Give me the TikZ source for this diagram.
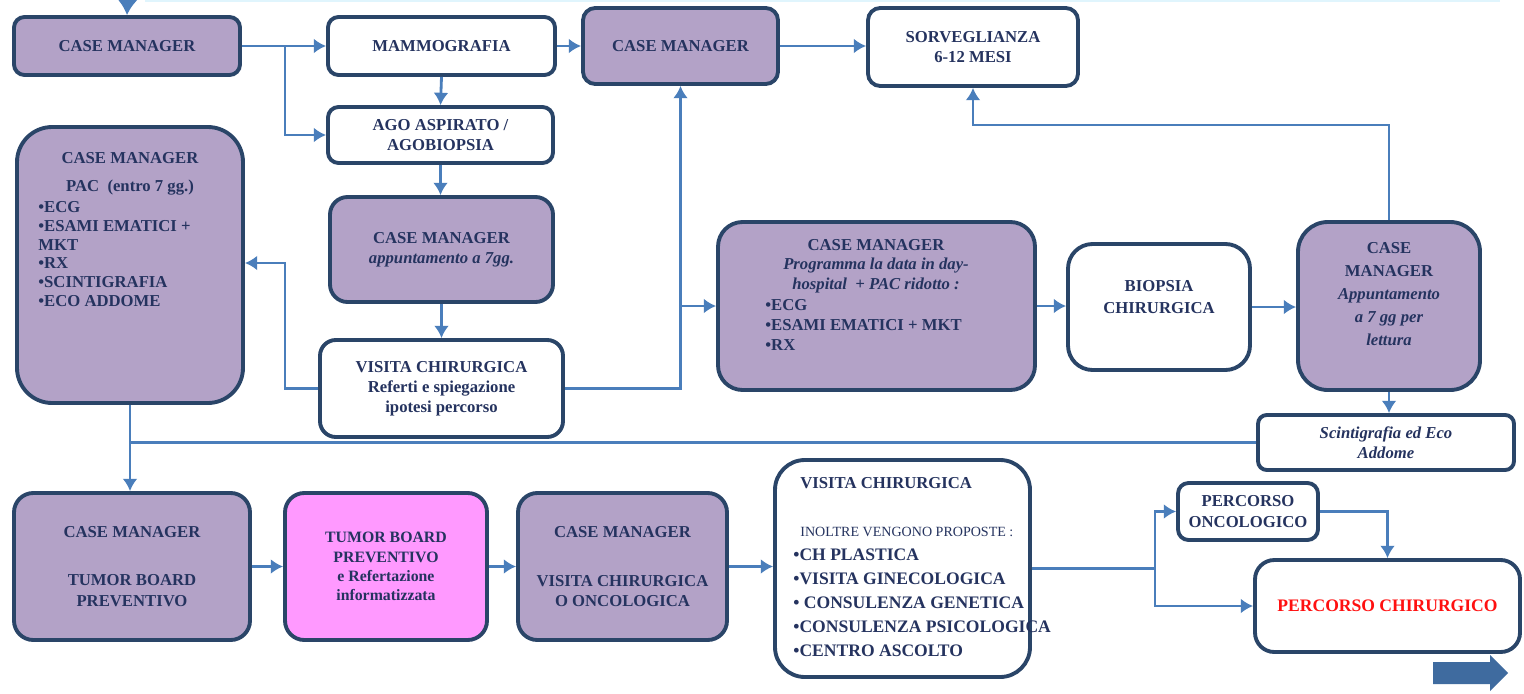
\documentclass[tikz,border=0pt]{standalone}
\usepackage{fontspec}
\setmainfont{Liberation Serif}
\usetikzlibrary{arrows.meta}
\definecolor{lav}{HTML}{B3A2C7}
\definecolor{pinkb}{HTML}{FF99FF}
\definecolor{bord}{HTML}{2A4568}
\definecolor{conn}{HTML}{4A7EBB}
\definecolor{txt}{HTML}{25335F}
\definecolor{redt}{HTML}{FF1010}
\newcommand\dtf{\bfseries\fontsize{9.5}{11.5}\selectfont}
\newcommand\mkbox[6]{\node[#2,minimum width={(#5-#3)*0.02cm},minimum height={(#6-#4)*0.02cm}] (#1) at ({(#3+#5)/2},{(#4+#6)/2})}
\begin{document}
\begin{tikzpicture}[x=0.02cm,y=-0.02cm,
  box/.style={draw=bord,line width=2.2pt,rounded corners=#1,inner sep=0pt,text=txt,font=\dtf,align=center},
  box/.default=6pt,
  cmbox/.style={box=#1,fill=lav}, cmbox/.default=8pt,
  wbox/.style={box=#1,fill=white}, wbox/.default=8pt,
  lbl/.style={text=txt,font=\dtf,align=center,inner sep=0pt},
  arr/.style={draw=conn,line width=1.6pt,-{Latex[length=7pt,width=8.5pt]}},
  ln/.style={draw=conn,line width=1.6pt},
]
\useasboundingbox (0,0) rectangle (1524,693);
\fill[white] (0,0) rectangle (1524,693);
\draw[cyan!12,line width=1pt] (145,1) -- (1500,1);

% boxes
\mkbox{cm1}{cmbox=6pt}{14}{17}{240}{75}{CASE MANAGER};
\mkbox{mam}{wbox=6pt}{328}{17}{555}{75}{MAMMOGRAFIA};
\mkbox{cm2}{cmbox=7pt}{583}{8}{778}{84}{CASE MANAGER};
\mkbox{sorv}{wbox=7pt}{868}{8}{1078}{86}{SORVEGLIANZA\\6-12 MESI};
\mkbox{ago}{wbox=6pt}{328}{107}{553}{163}{AGO ASPIRATO /\\AGOBIOPSIA};
\mkbox{cm3}{cmbox=10pt}{330}{197}{553}{302}{CASE MANAGER\\\textit{appuntamento a 7gg.}};
\mkbox{v1}{wbox=9pt}{320}{340}{563}{437}{VISITA CHIRURGICA\\Referti e spiegazione\\ipotesi percorso};
\mkbox{pac}{cmbox=20pt}{17}{127}{243}{403}{};
\mkbox{dh}{cmbox=14pt}{718}{222}{1035}{390}{};
\mkbox{bio}{wbox=14pt}{1068}{244}{1250}{370}{};
\mkbox{cmr}{cmbox=17pt}{1298}{222}{1480}{390}{};
\mkbox{scint}{wbox=5pt}{1258}{415}{1514}{470}{\textit{Scintigrafia ed Eco}\\\textit{Addome}};
\mkbox{tb1}{cmbox=11pt}{14}{493}{250}{640}{CASE MANAGER\\[16pt]TUMOR BOARD\\PREVENTIVO};
\mkbox{tb2}{box=11pt,fill=pinkb,font=\bfseries\fontsize{9}{11}\selectfont}{285}{493}{487}{640}{TUMOR BOARD\\PREVENTIVO\\e Refertazione\\informatizzata};
\mkbox{cmvc}{cmbox=11pt}{518}{493}{727}{640}{CASE MANAGER\\[16pt]VISITA CHIRURGICA\\O ONCOLOGICA};
\mkbox{vc2}{wbox=17pt}{775}{460}{1030}{677}{};
\mkbox{onc}{wbox=6pt}{1178}{483}{1318}{540}{PERCORSO\\ONCOLOGICO};
\mkbox{chir}{wbox=11pt,font=\bfseries\fontsize{10}{12}\selectfont}{1255}{560}{1520}{652}{\textcolor{redt}{PERCORSO CHIRURGICO}};

% texts placed inside boxes
\node[lbl] (pac-a) at (130,158) {CASE MANAGER};
\node[lbl] (pac-b) at (130,188) {PAC\ \ (entro 7 gg.)};
\node[lbl,align=left,anchor=west,font=\bfseries\fontsize{9.5}{10.6}\selectfont] (pac-c) at (38,254) {•ECG\\•ESAMI EMATICI +\\MKT\\•RX\\•SCINTIGRAFIA\\•ECO ADDOME};
\node[lbl,font=\bfseries\fontsize{9.5}{11}\selectfont] (dh-a) at (876,266) {CASE MANAGER\\\textit{Programma la data in day-}\\\textit{hospital\ \ + PAC ridotto :}};
\node[lbl,align=left,anchor=west,font=\bfseries\fontsize{9.5}{11.3}\selectfont] (dh-b) at (765,325) {•ECG\\•ESAMI EMATICI + MKT\\•RX};
\node[lbl,font=\bfseries\fontsize{9.5}{13}\selectfont] (bio-a) at (1159,297) {BIOPSIA\\CHIRURGICA};
\node[lbl,font=\bfseries\fontsize{9.5}{13}\selectfont] (cmr-a) at (1389,294) {CASE\\MANAGER\\\textit{Appuntamento}\\\textit{a 7 gg per}\\\textit{lettura}};
\node[lbl,anchor=west] (vc2-a) at (800,483) {VISITA CHIRURGICA};
\node[lbl,anchor=west,font=\fontsize{8}{10}\selectfont] (vc2-b) at (800,532) {INOLTRE VENGONO PROPOSTE :};
\node[lbl,align=left,anchor=west,font=\bfseries\fontsize{10}{13.6}\selectfont] (vc2-c) at (793,603) {•CH PLASTICA\\•VISITA GINECOLOGICA\\• CONSULENZA GENETICA\\•CONSULENZA PSICOLOGICA\\•CENTRO ASCOLTO};

% coordinates
\coordinate (topin) at (128,-14);
\coordinate (j1) at (285,46);
\coordinate (j2) at (285,263);
\coordinate (j4) at (973,125);
\coordinate (j6x) at (1155,0);
\coordinate (j6) at (vc2.east -| j6x);

% connectors
\draw[arr,line width=3pt,-{Latex[length=9pt,width=12pt]}] (topin) -- (cm1.north);
\draw[arr] (cm1.east) -- (mam.west);
\draw[arr] (j1) |- (ago.west);
\draw[arr] (mam.east) -- (mam.east -| cm2.west);
\draw[arr] (cm2.east) -- (cm2.east -| sorv.west);
\draw[arr] (mam.south) -- (ago.north);
\draw[arr] (ago.south) -- (ago.south |- cm3.north);
\draw[arr] (cm3.south) -- (cm3.south |- v1.north);
\draw[arr] (v1.west) -| (j2) -- (j2 -| pac.east);
\draw[arr] (v1.east) -| (cm2.south);
\draw[arr] (cm2.south |- dh.west) -- (dh.west);
\draw[arr] (dh.east) -- (dh.east -| bio.west);
\draw[arr] (bio.east) -- (bio.east -| cmr.west);
\draw[arr] (cmr.north) |- (j4) -- (j4 |- sorv.south);
\draw[arr] (cmr.south) -- (cmr.south |- scint.north);
\draw[ln] (scint.west) -- (scint.west -| pac.south);
\draw[arr] (pac.south) -- (pac.south |- tb1.north);
\draw[arr] (tb1.east) -- (tb1.east -| tb2.west);
\draw[arr] (tb2.east) -- (tb2.east -| cmvc.west);
\draw[arr] (cmvc.east) -- (cmvc.east -| vc2.west);
\draw[ln] (vc2.east) -- (j6);
\draw[arr] (j6) |- (onc.west);
\draw[arr] (j6) |- (chir.west);
\draw[arr] (onc.east) -| (chir.north);

% block arrow
\fill[conn!85!black] (1433,662) -- (1490,662) -- (1490,655) -- (1508,673) -- (1490,691) -- (1490,684) -- (1433,684) -- cycle;
\end{tikzpicture}
\end{document}
